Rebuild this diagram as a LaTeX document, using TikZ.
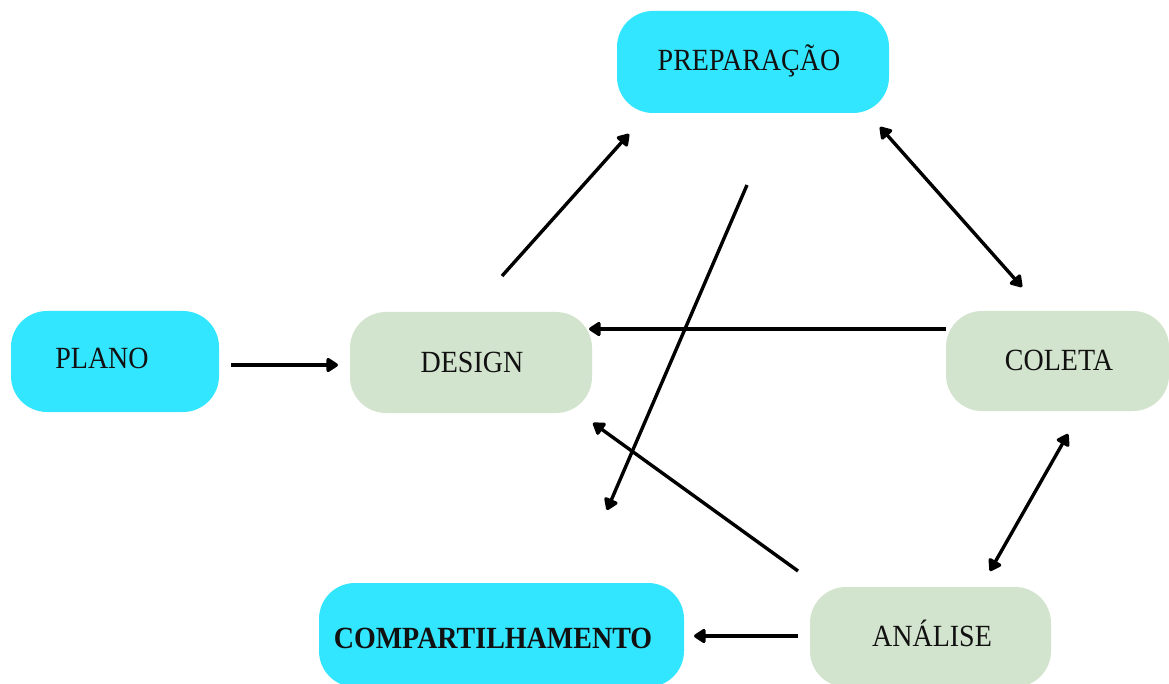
\documentclass[tikz,border=0pt]{standalone}
\usepackage{fontspec}
\setmainfont{Liberation Serif}
\usetikzlibrary{arrows.meta}
\definecolor{cyanfill}{HTML}{33E6FF}
\definecolor{greenfill}{HTML}{D3E4CE}
\definecolor{txt}{HTML}{111111}
\newcommand{\tallt}[1]{\scalebox{1}[1.1]{#1}}
\begin{document}
\begin{tikzpicture}[x=1pt,y=-1pt,
  box/.style={rounded corners=36pt, draw=none, inner sep=0pt},
  cbox/.style={box, fill=cyanfill},
  gbox/.style={box, fill=greenfill},
  lbl/.style={anchor=base, inner sep=0pt, text=txt, font=\fontsize{28}{30}\selectfont},
  tip/.tip={Triangle[length=13pt,width=16pt,round]},
  arr/.style={line width=3.4pt, -tip},
  darr/.style={line width=3.4pt, tip-tip}]
\useasboundingbox (0,0) rectangle (1169,684);
\clip (0,0) rectangle (1169,684);
\fill[white] (0,0) rectangle (1169,684);
% boxes
\node[cbox, minimum width=272pt, minimum height=102pt] (prep) at (753,62) {};
\node[cbox, minimum width=208pt, minimum height=101pt] (plano) at (115,361.5) {};
\node[gbox, minimum width=242pt, minimum height=101pt] (design) at (471,362.5) {};
\node[gbox, minimum width=223pt, minimum height=100pt] (coleta) at (1057.5,361) {};
\node[gbox, minimum width=241pt, minimum height=100pt] (analise) at (930.5,637) {};
\node[cbox, minimum width=365pt, minimum height=104pt] (comp) at (501.5,635) {};
% labels
\node[lbl] (prep-t) at (749,71) {\tallt{PREPARAÇÃO}};
\node[lbl] (plano-t) at (102,368) {\tallt{PLANO}};
\node[lbl] (design-t) at (472,372) {\tallt{DESIGN}};
\node[lbl] (coleta-t) at (1059,370) {\tallt{COLETA}};
\node[lbl] (analise-t) at (932,646) {\tallt{ANÁLISE}};
\node[lbl, font=\fontsize{28}{30}\selectfont\bfseries] (comp-t) at (493,648) {\tallt{COMPARTILHAMENTO}};
% connector ends
\coordinate (a1s) at (231,365);  \coordinate (a1e) at (338,365);
\coordinate (a2s) at (502,276);  \coordinate (a2e) at (629,134);
\coordinate (a3s) at (747,185);  \coordinate (a3e) at (607,510);
\coordinate (a4s) at (880,127);  \coordinate (a4e) at (1022,287);
\coordinate (a5s) at (946,329);  \coordinate (a5e) at (589,329);
\coordinate (a6s) at (1068,434); \coordinate (a6e) at (990,571);
\coordinate (a7s) at (798,571);  \coordinate (a7e) at (593,423);
\coordinate (a8s) at (798,636);  \coordinate (a8e) at (694,636);
% connectors
\draw[arr] (a1s) -- (a1e);
\draw[arr] (a2s) -- (a2e);
\draw[arr] (a3s) -- (a3e);
\draw[darr] (a4s) -- (a4e);
\draw[arr] (a5s) -- (a5e);
\draw[darr] (a6s) -- (a6e);
\draw[arr] (a7s) -- (a7e);
\draw[arr] (a8s) -- (a8e);
\end{tikzpicture}
\end{document}
